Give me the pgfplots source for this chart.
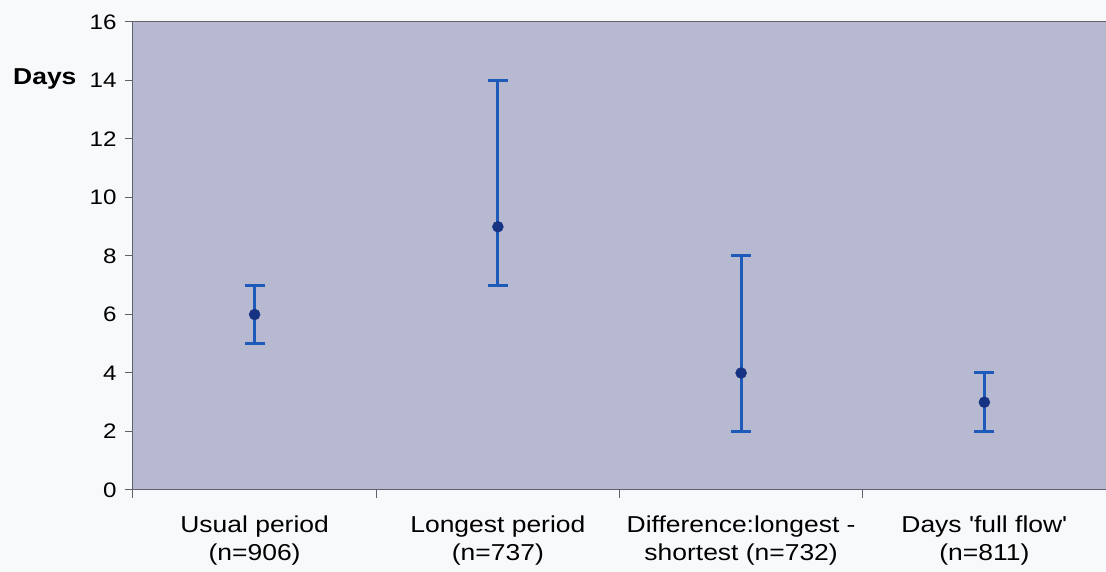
\documentclass[border=0pt]{standalone}
\usepackage{pgfplots}
\pgfplotsset{compat=1.18}
\usepackage{fontspec}
\setmainfont{Liberation Sans}
\newfontfamily\widefont[FakeStretch=1.15]{Liberation Sans}
\definecolor{bgc}{RGB}{182,185,208}
\definecolor{errc}{RGB}{30,90,185}
\definecolor{dotc}{RGB}{22,50,130}
\definecolor{axc}{RGB}{95,98,110}
\definecolor{pagec}{RGB}{248,249,251}
\pgfplotstableread{
x y ep em
0 6 1 1
1 9 5 2
2 4 4 2
3 3 1 1
}\data
\begin{document}
\begin{tikzpicture}
\fill[pagec] (-133pt,-82pt) rectangle (973pt,490pt);
\begin{axis}[
  at={(0pt,0pt)}, anchor=south west,
  scale only axis, width=973pt, height=468pt,
  xmin=-0.5, xmax=3.5, ymin=0, ymax=16,
  axis background/.style={fill=bgc},
  axis x line*=bottom, axis y line*=left,
  axis line style={axc, line width=1pt, -},
  ytick={0,2,...,16},
  xtick={-0.5,0.5,1.5,2.5,3.5},
  x tick label as interval,
  xticklabels={{Usual period\\(n=906)},{Longest period\\(n=737)},{Difference:longest -\\shortest (n=732)},{Days 'full flow'\\(n=811)}},
  xticklabel style={align=center, font=\widefont\fontsize{23pt}{28pt}\selectfont, yshift=-14pt},
  yticklabel style={font=\widefont\fontsize{21pt}{24pt}\selectfont, xshift=-5pt},
  /pgf/number format/assume math mode=true,
  major tick length=8pt,
  tick style={axc, line width=1pt},
  tick align=outside,
  clip=false,
]
\draw[gray!80!black, line width=1pt] (rel axis cs:0,1) -- (rel axis cs:1,1);
\addplot[only marks, mark=*, mark size=5.5pt, mark options={fill=dotc, draw=dotc},
  error bars/.cd, y dir=both, y explicit,
  error bar style={errc, line width=3pt},
  error mark options={rotate=90, errc, line width=3pt, mark size=10pt}]
  table[x=x, y=y, y error plus=ep, y error minus=em] {\data};
\node[anchor=east, font=\widefont\bfseries\fontsize{23pt}{26pt}\selectfont] at ([xshift=-53pt, yshift=2pt]axis cs:-0.5,14) {Days};
\end{axis}
\pgfresetboundingbox
\path[use as bounding box] (-133pt,-82pt) rectangle (973pt,490pt);
\end{tikzpicture}
\end{document}
